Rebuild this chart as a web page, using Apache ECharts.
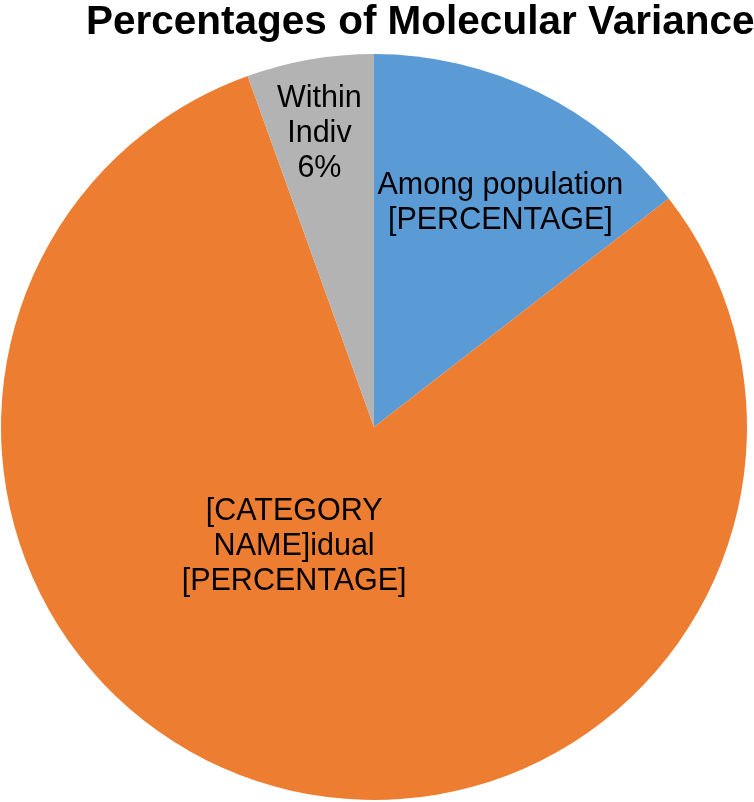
<!DOCTYPE html>
<html>
<head>
<meta charset="utf-8">
<script src="https://cdn.jsdelivr.net/npm/echarts@6/dist/echarts.min.js"></script>
<style>
html,body{margin:0;padding:0;background:#fff;}
#chart{width:754px;height:802px;}
</style>
</head>
<body>
<div id="chart"></div>
<script>
var categories = ['Among population', 'Within Individual', 'Within Indiv'];
var values = [14.5, 80.0, 5.5];
var labelTexts = ['Among population\n[PERCENTAGE]', '[CATEGORY\nNAME]idual\n[PERCENTAGE]', 'Within\nIndiv\n6%'];
var colors = ['#5B9BD5', '#ED7D31', '#B3B3B3'];
var labelShift = [[43, -54], [-27, -62], [-22, -107]];

var chart = echarts.init(document.getElementById('chart'), null, {renderer: 'canvas'});
var data = categories.map(function (c, i) {
  return {
    name: c,
    value: values[i],
    itemStyle: {color: colors[i]},
    label: {formatter: labelTexts[i]}
  };
});
chart.setOption({
  animation: false,
  title: {
    text: 'Percentages of Molecular Variance',
    left: 81,
    top: -3,
    textStyle: {
      fontFamily: 'Liberation Sans, Arial, sans-serif',
      fontWeight: 'bold',
      fontSize: 40.5,
      color: '#000'
    }
  },
  series: [{
    type: 'pie',
    center: [374, 427],
    radius: [0, 373],
    startAngle: 90,
    clockwise: true,
    avoidLabelOverlap: false,
    itemStyle: {borderWidth: 0},
    label: {
      show: true,
      position: 'inside',
      color: '#000',
      fontFamily: 'Liberation Sans, Arial, sans-serif',
      fontSize: 30.5,
      lineHeight: 35,
      align: 'center'
    },
    labelLine: {show: false},
    emphasis: {disabled: true},
    labelLayout: function (p) {
      var s = labelShift[p.dataIndex];
      return {dx: s[0], dy: s[1]};
    },
    data: data
  }]
});
</script>
</body>
</html>
